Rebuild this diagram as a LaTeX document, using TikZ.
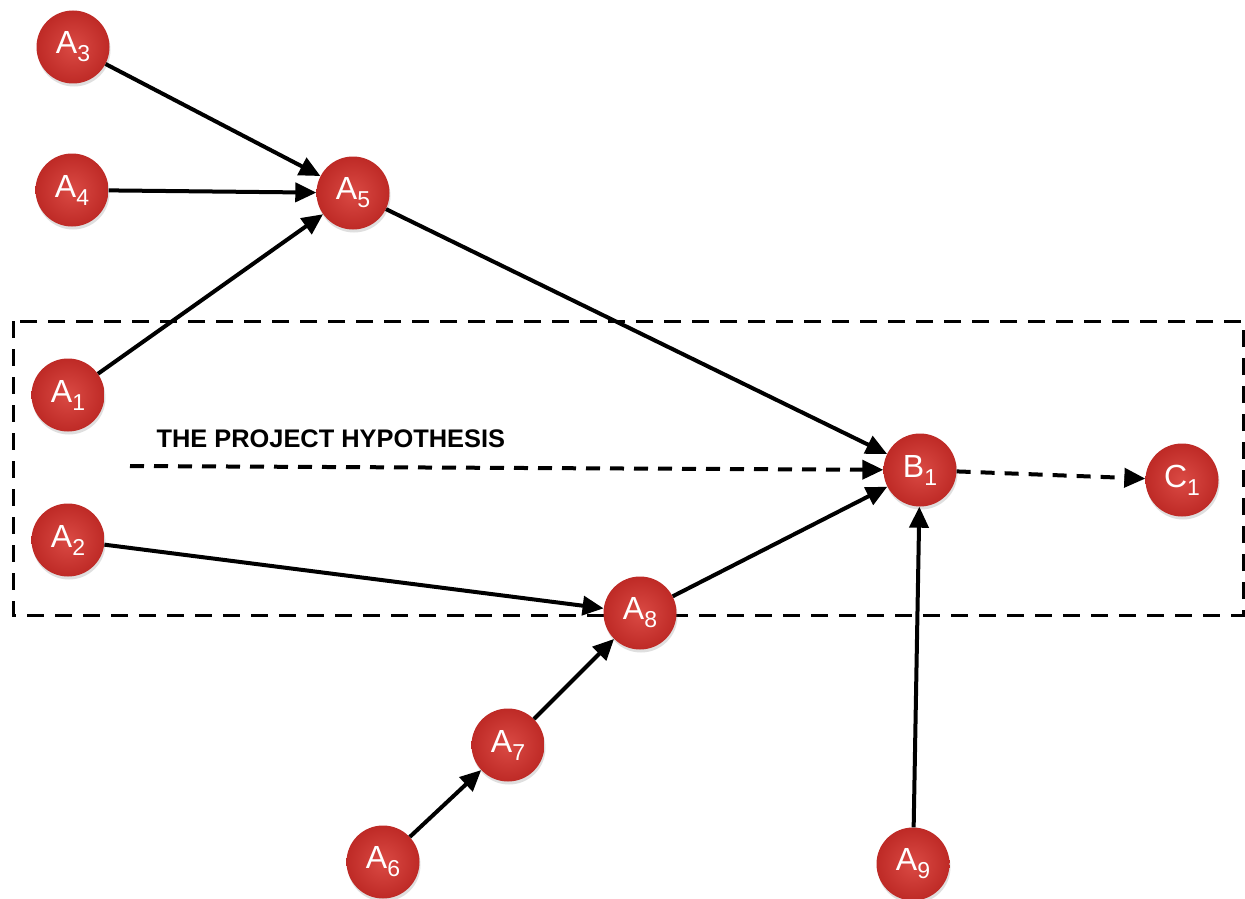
\documentclass[tikz,border=0pt]{standalone}
\usepackage{fontspec}
\setmainfont{Liberation Sans}
\usetikzlibrary{arrows.meta,shadows}
\definecolor{ballin}{RGB}{218,74,68}
\definecolor{ballout}{RGB}{190,42,38}
\newcommand\lbl[2]{#1\raisebox{-8pt}{\fontsize{23}{23}\selectfont #2}}
\begin{document}
\begin{tikzpicture}[x=1pt,y=-1pt,
  ball/.style={circle,minimum size=73pt,inner sep=0pt,
    inner color=ballin,outer color=ballout,
    drop shadow={opacity=0.25,shadow xshift=1pt,shadow yshift=-3pt},
    text=white,font=\fontsize{32}{32}\selectfont},
  conn/.style={line width=4pt,-{Triangle[length=21pt,width=19pt]}},
  dconn/.style={conn,dash pattern=on 14pt off 10pt},
  frame/.style={line width=3pt,dash pattern=on 17pt off 11pt}
]
\useasboundingbox (0,0) rectangle (1245,899);
\fill[white] (0,0) rectangle (1245,899);
\draw[frame] (13,321) rectangle (1243,615);

\node[ball] (A3) at (73,47) {\lbl{A}{3}};
\node[ball] (A4) at (72,190) {\lbl{A}{4}};
\node[ball] (A5) at (353,193) {\lbl{A}{5}};
\node[ball] (A1) at (68,395) {\lbl{A}{1}};
\node[ball] (A2) at (68,540) {\lbl{A}{2}};
\node[ball] (A8) at (640,613) {\lbl{A}{8}};
\node[ball] (A7) at (508,745) {\lbl{A}{7}};
\node[ball] (A6) at (383,862) {\lbl{A}{6}};
\node[ball] (A9) at (913,864) {\lbl{A}{9}};
\node[ball] (B1) at (920,470) {\lbl{B}{1}};
\node[ball] (C1) at (1182,480) {\lbl{C}{1}};

\coordinate (hyp) at (130,466);
\node[font=\bfseries\fontsize{25.4}{26}\selectfont,anchor=west] (hyptext) at (153,439) {THE PROJECT HYPOTHESIS};

\draw[conn] (A3) -- (A5);
\draw[conn] (A4) -- (A5);
\draw[conn] (A1) -- (A5);
\draw[conn] (A5) -- (B1);
\draw[conn] (A2) -- (A8);
\draw[conn] (A8) -- (B1);
\draw[conn] (A7) -- (A8);
\draw[conn] (A6) -- (A7);
\draw[conn] (A9) -- (B1);
\draw[dconn] (hyp) -- (B1);
\draw[dconn] (B1) -- (C1);
\end{tikzpicture}
\end{document}
